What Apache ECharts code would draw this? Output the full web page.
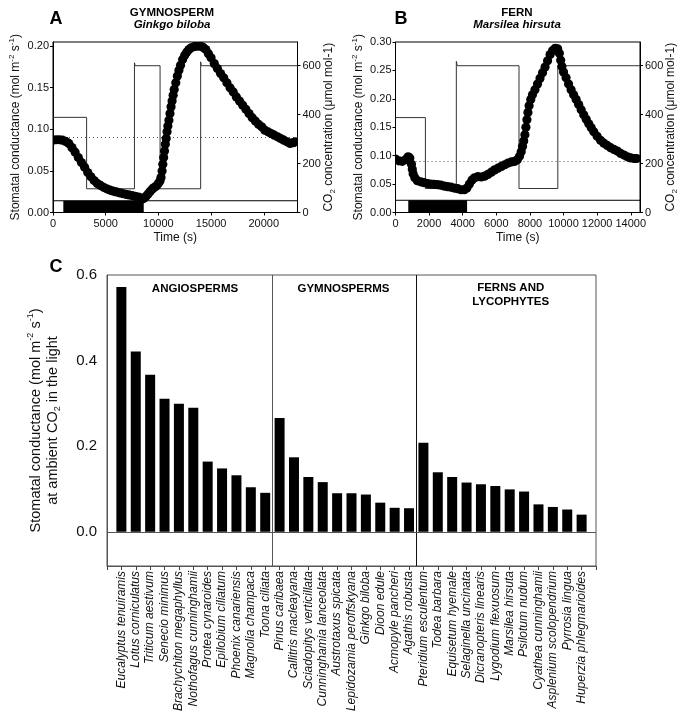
<!DOCTYPE html>
<html><head><meta charset="utf-8">
<script src="https://cdn.jsdelivr.net/npm/echarts@6/dist/echarts.min.js"></script>
<style>html,body{margin:0;padding:0;background:#fff}#c{width:683px;height:724px}</style>
</head><body><div id="c"></div>
<script>
const FONT = "'Liberation Sans', Arial, sans-serif";

// ---------- Panel A : Ginkgo biloba ----------
const aTime = [0,300,600,900,1200,1500,1800,2100,2400,2700,3000,3300,3600,3900,4200,4500,4800,5100,5400,5700,6000,6300,6600,6900,7200,7500,7800,8100,8400,8600,8800,9000,9200,9400,9600,9800,10000,10150,10250,10350,10420,10500,10580,10660,10740,10820,10900,11000,11100,11200,11300,11400,11500,11650,11800,11950,12100,12300,12500,12700,12900,13100,13400,13700,14000,14250,14500,14750,15000,15300,15600,15900,16200,16500,16800,17100,17400,17700,18000,18300,18600,18900,19200,19500,19800,20100,20400,20700,21000,21300,21600,21900,22200,22500,22800,23000];
const aCond = [0.087,0.0875,0.0875,0.087,0.0855,0.083,0.078,0.0725,0.066,0.060,0.0545,0.048,0.043,0.0385,0.035,0.0325,0.0303,0.0285,0.027,0.0258,0.0247,0.0237,0.0228,0.0219,0.0211,0.0203,0.0195,0.0185,0.0172,0.0168,0.019,0.022,0.025,0.028,0.030,0.032,0.035,0.038,0.042,0.050,0.058,0.066,0.074,0.082,0.089,0.097,0.104,0.111,0.119,0.127,0.134,0.141,0.148,0.156,0.164,0.171,0.177,0.184,0.189,0.193,0.196,0.198,0.1995,0.200,0.200,0.1985,0.196,0.191,0.186,0.179,0.173,0.167,0.162,0.156,0.150,0.145,0.139,0.134,0.129,0.124,0.119,0.114,0.110,0.106,0.103,0.099,0.097,0.095,0.093,0.091,0.089,0.087,0.085,0.083,0.084,0.085];
const aCO2Time = [0,3190,3190,7730,7730,7790,10160,10160,14010,14010,14070,23200];
const aCO2 = [389,389,97,97,612,600,600,97,97,616,600,600];
const aDark = [980, 8610];
const aStripTop = 48;
const aRef = 0.085;
const aXMax = 23200;

// ---------- Panel B : Marsilea hirsuta ----------
const bTime = [0,200,400,600,750,850,950,1000,1050,1150,1300,1500,1700,1900,2100,2300,2500,2700,2900,3100,3300,3500,3700,3900,4100,4250,4400,4550,4700,4900,5100,5300,5500,5700,5900,6100,6300,6500,6700,6900,7100,7250,7380,7480,7560,7630,7700,7760,7820,7880,7950,8050,8150,8300,8450,8600,8750,8900,9050,9200,9350,9500,9650,9750,9830,9900,10000,10150,10300,10450,10600,10750,10900,11050,11200,11350,11500,11650,11800,12000,12200,12400,12600,12800,13000,13200,13400,13600,13800,14000,14200,14350];
const bCond = [0.094,0.091,0.090,0.093,0.098,0.096,0.085,0.076,0.068,0.061,0.056,0.054,0.0525,0.051,0.050,0.0495,0.049,0.048,0.0465,0.0455,0.0445,0.043,0.042,0.040,0.040,0.043,0.050,0.057,0.061,0.063,0.0625,0.064,0.067,0.071,0.075,0.078,0.081,0.084,0.087,0.089,0.090,0.093,0.099,0.107,0.116,0.126,0.137,0.150,0.163,0.176,0.188,0.199,0.207,0.216,0.226,0.236,0.246,0.256,0.267,0.278,0.285,0.289,0.288,0.280,0.268,0.257,0.247,0.237,0.226,0.216,0.207,0.199,0.190,0.181,0.172,0.164,0.156,0.149,0.142,0.134,0.127,0.122,0.118,0.114,0.111,0.108,0.104,0.101,0.098,0.096,0.095,0.095];
const bCO2Time = [0,1780,1780,3620,3620,3680,7350,7350,9660,9660,14550];
const bCO2 = [388,388,98,98,618,600,600,98,98,600,600];
const bDark = [760, 4260];
const bStripTop = 50;
const bRef = 0.0924;
const bXMax = 14550;

// ---------- Panel C ----------
const species = ['Eucalyptus tenuiramis','Lotus corniculatus','Triticum aestivum','Senecio minimus','Brachychiton megaphyllus','Nothofagus cunninghamii','Protea cynaroides','Epilobium ciliatum','Phoenix canariensis','Magnolia champaca','Toona ciliata',
 'Pinus caribaea','Callitris macleayana','Sciadopitys verticillata','Cunninghamia lanceolata','Austrotaxus spicata','Lepidozamia peroffskyana','Ginkgo biloba','Dioon edule','Acmopyle pancheri','Agathis robusta',
 'Pteridium esculentum','Todea barbara','Equisetum hyemale','Selaginella uncinata','Dicranopteris linearis','Lygodium flexuosum','Marsilea hirsuta','Psilotum nudum','Cyathea cunninghamii','Asplenium scolopendrium','Pyrrosia lingua','Huperzia phlegmarioides'];
const gsAngio = [0.572,0.421,0.367,0.311,0.299,0.290,0.164,0.148,0.132,0.104,0.091];
const gsGymno = [0.266,0.174,0.128,0.116,0.090,0.090,0.087,0.068,0.056,0.055];
const gsFern = [0.208,0.139,0.128,0.115,0.111,0.107,0.099,0.094,0.064,0.058,0.052,0.040];
const groupNames = ['ANGIOSPERMS','GYMNOSPERMS','FERNS AND\nLYCOPHYTES'];
const cTicks = [0, 0.2, 0.4, 0.6];

const zip = (a, b) => a.map((v, i) => [v, b[i]]);
const gsAll = gsAngio.concat(gsGymno, gsFern);
const divider1 = gsAngio.length - 0.5;
const divider2 = gsAngio.length + gsGymno.length - 0.5;

const TXT = '#111';
const condName = '{n|Stomatal conductance (mol m}{s|-2}{n| s}{s|-1}{n|)}';
const co2Name = '{n|CO}{b|2}{n| concentration (\u03bcmol mol-1)}';
const richSmall = {
  n: {fontSize: 12, fontFamily: FONT, color: TXT, lineHeight: 14, verticalAlign: 'bottom'},
  s: {fontSize: 8, fontFamily: FONT, color: TXT, lineHeight: 14, verticalAlign: 'top'},
  b: {fontSize: 8, fontFamily: FONT, color: TXT, lineHeight: 12, verticalAlign: 'bottom', padding: [0,0,-2,0]}
};

function timeAxis(grid, max, interval) {
  return {
    type: 'value', gridIndex: grid, min: 0, max: max, interval: interval,
    name: 'Time (s)', nameLocation: 'middle', nameGap: 19,
    nameTextStyle: {fontSize: 12, fontFamily: FONT, color: TXT},
    axisLine: {show: true, onZero: false, lineStyle: {color: '#000', width: 1}},
    axisTick: {show: true, length: 3, inside: false, lineStyle: {color: '#000'}},
    axisLabel: {fontSize: 11, fontFamily: FONT, color: TXT, margin: 6, showMaxLabel: false, formatter: v => String(v)},
    splitLine: {show: false}
  };
}
function condAxis(grid, max) {
  return {
    type: 'value', gridIndex: grid, min: 0, max: max, interval: 0.05, position: 'left',
    name: condName, nameLocation: 'middle', nameGap: 31, nameRotate: 90, nameMoveOverlap: false,
    nameTextStyle: {rich: richSmall},
    axisLine: {show: true, onZero: false, lineStyle: {color: '#000', width: 1}},
    axisTick: {show: true, length: 3, lineStyle: {color: '#000'}},
    axisLabel: {fontSize: 11, fontFamily: FONT, color: TXT, margin: 4, showMaxLabel: max === 0.30, formatter: v => v.toFixed(2)},
    splitLine: {show: false}
  };
}
function co2Axis(grid) {
  return {
    type: 'value', gridIndex: grid, min: 0, max: 697, interval: 200, position: 'right',
    name: co2Name, nameLocation: 'middle', nameGap: 23, nameRotate: 90, nameMoveOverlap: false,
    nameTextStyle: {rich: richSmall},
    axisLine: {show: true, onZero: false, lineStyle: {color: '#000', width: 1}},
    axisTick: {show: true, length: 3, lineStyle: {color: '#000'}},
    axisLabel: {fontSize: 11, fontFamily: FONT, color: TXT, margin: 5, showMaxLabel: false},
    splitLine: {show: false}
  };
}
// dots drawn as custom series through the axis scales (api.coord)
function dotRender(params, api) {
  const p = api.coord([api.value(0), api.value(1)]);
  return {type: 'circle', shape: {cx: p[0], cy: p[1], r: 4.6},
    style: {fill: '#000', stroke: null, lineWidth: 0, opacity: 1}, silent: true};
}
function panelSeries(xi, yCond, yCO2, time, cond, co2t, co2, dark, strip, ref, xmax) {
  return [
    {type: 'line', xAxisIndex: xi, yAxisIndex: yCO2, data: zip(co2t, co2), showSymbol: false, symbol: 'none',
     lineStyle: {color: '#333', width: 1}, z: 2, silent: true, animation: false},
    {type: 'line', xAxisIndex: xi, yAxisIndex: yCO2, data: [[0, strip], [xmax, strip]], symbol: 'none',
     lineStyle: {color: '#000', width: 1}, z: 2, silent: true, animation: false,
     markArea: {silent: true, itemStyle: {color: '#000', opacity: 1},
       data: [[{xAxis: dark[0], yAxis: 0}, {xAxis: dark[1], yAxis: strip}]]}},
    {type: 'line', xAxisIndex: xi, yAxisIndex: yCond, data: [], symbol: 'none', z: 2, silent: true, animation: false,
     markLine: {silent: true, symbol: 'none', label: {show: false},
       lineStyle: {color: '#555', width: 1, type: [1, 3]}, data: [{yAxis: ref}]}},
    {type: 'custom', xAxisIndex: xi, yAxisIndex: yCond, data: zip(time, cond), renderItem: dotRender,
     encode: {x: 0, y: 1}, clip: true, z: 5, silent: true, animation: false}
  ];
}

function txt(text, x, y, font, align) {
  return {type: 'text', x: x, y: y, silent: true,
    style: {text: text, font: font, fill: '#000', align: align || 'center', verticalAlign: 'middle'}};
}

const option = {
  backgroundColor: '#fff',
  animation: false,
  textStyle: {fontFamily: FONT},
  grid: [
    {left: 53, top: 42, width: 244.5, height: 170.5, show: true, borderColor: '#000', borderWidth: 1, backgroundColor: 'transparent', outerBoundsMode: 'none', containLabel: false},
    {left: 395.5, top: 42, width: 244.5, height: 170.5, show: true, borderColor: '#000', borderWidth: 1, backgroundColor: 'transparent', outerBoundsMode: 'none', containLabel: false},
    {left: 107, top: 275, width: 489, height: 291, show: true, borderColor: '#555', borderWidth: 1, backgroundColor: 'transparent', outerBoundsMode: 'none', containLabel: false}
  ],
  xAxis: [
    timeAxis(0, aXMax, 5000),
    timeAxis(1, bXMax, 2000),
    {type: 'value', gridIndex: 2, min: -1, max: species.length, interval: 1,
     axisLine: {show: true, onZero: false, lineStyle: {color: '#555', width: 1}},
     axisTick: {show: true, length: 4, lineStyle: {color: '#444'}},
     axisLabel: {rotate: 90, fontSize: 12, fontStyle: 'italic', fontFamily: FONT, color: TXT, margin: 5,
       formatter: v => { const i = Math.round(v); return (i >= 0 && i < species.length) ? species[i] : ''; }},
     splitLine: {show: false}}
  ],
  yAxis: [
    condAxis(0, 0.205), co2Axis(0), condAxis(1, 0.30), co2Axis(1),
    {type: 'value', gridIndex: 2, min: -0.08, max: 0.6, interval: 0.02,
     name: '{n|Stomatal conductance (mol m}{s|-2}{n| s}{s|-1}{n|)}\n{n|at ambient CO}{b|2}{n| in the light}',
     nameLocation: 'middle', nameGap: 47, nameRotate: 90, nameMoveOverlap: false,
     nameTextStyle: {align: 'center', rich: {
       n: {fontSize: 14.5, fontFamily: FONT, color: TXT, lineHeight: 17, verticalAlign: 'bottom'},
       s: {fontSize: 9, fontFamily: FONT, color: TXT, lineHeight: 17, verticalAlign: 'top'},
       b: {fontSize: 9, fontFamily: FONT, color: TXT, lineHeight: 15, verticalAlign: 'bottom', padding: [0,0,-2,0]}}},
     axisLine: {show: true, onZero: false, lineStyle: {color: '#555', width: 1}},
     axisTick: {show: false},
     axisLabel: {fontSize: 15, fontFamily: FONT, color: TXT, margin: 10,
       formatter: v => { const r = Math.round(v * 100); return (r >= 0 && cTicks.indexOf(r / 100) >= 0) ? (r / 100).toFixed(1) : ''; }},
     splitLine: {show: false}}
  ],
  series: [].concat(
    panelSeries(0, 0, 1, aTime, aCond, aCO2Time, aCO2, aDark, aStripTop, aRef, aXMax),
    panelSeries(1, 2, 3, bTime, bCond, bCO2Time, bCO2, bDark, bStripTop, bRef, bXMax),
    [{type: 'bar', xAxisIndex: 2, yAxisIndex: 4, data: gsAll.map((v, i) => [i, v]), barWidth: 10,
      itemStyle: {color: '#000', opacity: 1}, silent: true, animation: false, z: 3,
      markLine: {silent: true, symbol: 'none', label: {show: false}, animation: false,
        data: [
          {xAxis: divider1, lineStyle: {color: '#555', width: 1, type: 'solid'}},
          {xAxis: divider2, lineStyle: {color: '#111', width: 1, type: 'solid'}},
          {yAxis: 0, lineStyle: {color: '#555', width: 1, type: 'solid'}}
        ]}}]
  ),
  graphic: [
    txt('A', 56, 19, 'bold 18px ' + FONT),
    txt('GYMNOSPERM', 172, 12.5, 'bold 11.5px ' + FONT),
    txt('Ginkgo biloba', 172, 24.5, 'italic bold 11.5px ' + FONT),
    txt('B', 401, 19, 'bold 18px ' + FONT),
    txt('FERN', 517, 12.5, 'bold 11.5px ' + FONT),
    txt('Marsilea hirsuta', 517, 24.5, 'italic bold 11.5px ' + FONT),
    txt('C', 56, 267, 'bold 18px ' + FONT),
    txt(groupNames[0], 195, 288.5, 'bold 11.5px ' + FONT),
    txt(groupNames[1], 343.5, 288.5, 'bold 11.5px ' + FONT),
    {type: 'text', x: 510.7, y: 295, silent: true,
     style: {text: groupNames[2], font: 'bold 11.5px ' + FONT, fill: '#000', align: 'center', verticalAlign: 'middle', lineHeight: 14}}
  ]
};

const chart = echarts.init(document.getElementById('c'), null, {renderer: 'canvas', width: 683, height: 724});
chart.setOption(option);
</script>
</body></html>
